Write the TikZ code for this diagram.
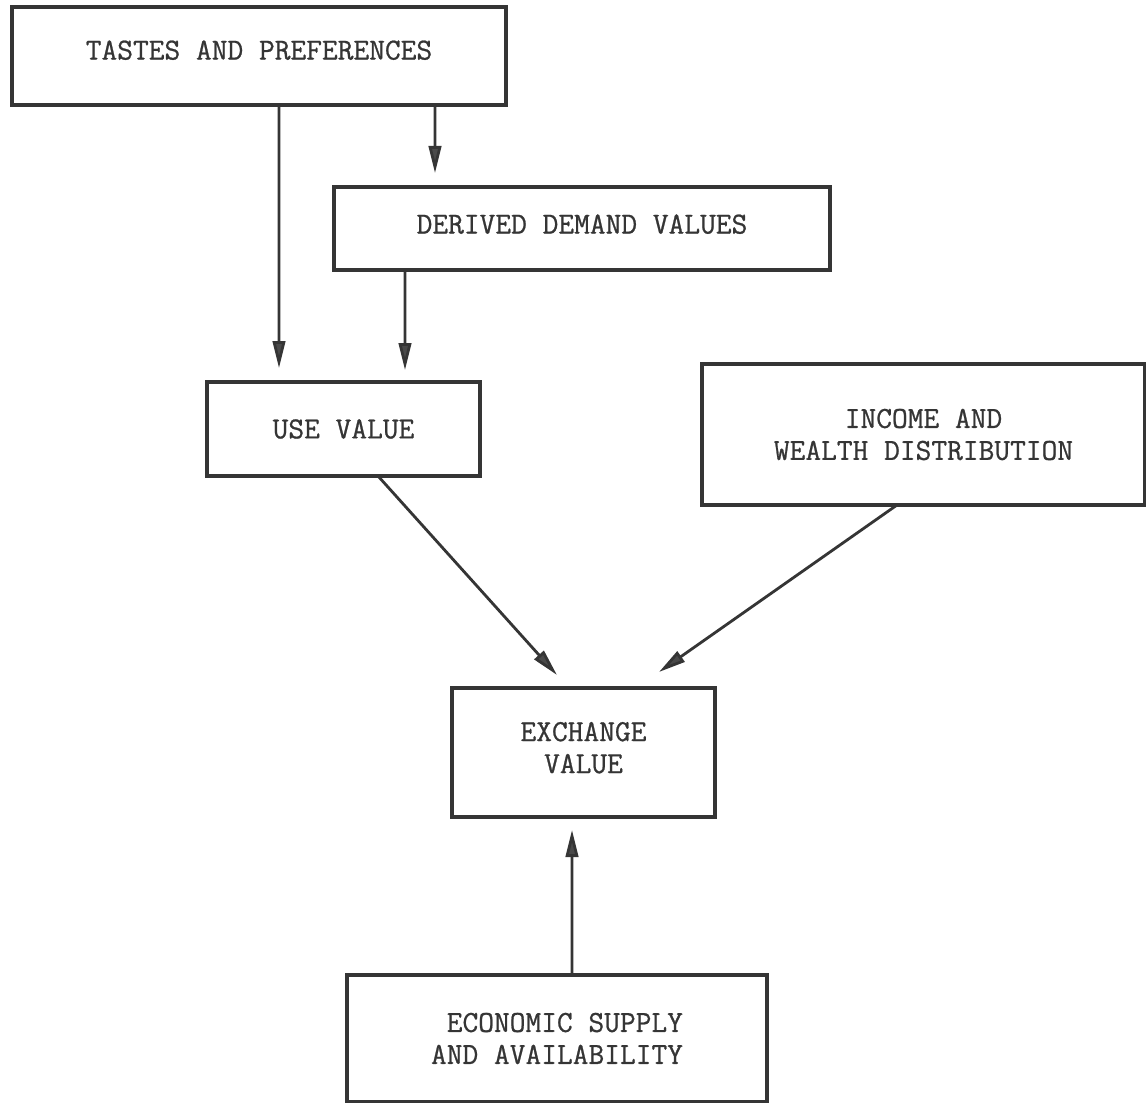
\documentclass[tikz,border=0pt]{standalone}
\usepackage{fontspec}
\usetikzlibrary{arrows.meta}
\newfontfamily\typewriter[FakeBold=0.8]{Latin Modern Mono}
\definecolor{ink}{HTML}{353535}
\definecolor{tipfill}{HTML}{4a4a4a}

\begin{document}
\begin{tikzpicture}[box/.style={draw=ink, line width=1.9pt, inner sep=0pt, outer sep=0pt, text=ink,
      font=\fontsize{17.4}{18.2}\selectfont\typewriter},
    flow/.style={draw=ink, line width=1.6pt, -{Triangle[length=0.54cm,width=0.25cm,fill=tipfill]}}]
      \useasboundingbox (0,0) rectangle (22.92,-22.06);
      \node[box, minimum width=9.88cm, minimum height=1.96cm, text depth=0.24cm] (tastes) at (5.18,-1.12) {TASTES AND PREFERENCES};
      \node[box, minimum width=9.92cm, minimum height=1.66cm, text depth=0.18cm] (derived) at (11.64,-4.57) {DERIVED DEMAND VALUES};
      \node[box, minimum width=5.46cm, minimum height=1.88cm] (use) at (6.87,-8.58) {USE VALUE};
      \node[box, minimum width=8.86cm, minimum height=2.82cm, align=center] (income) at (18.47,-8.69) {INCOME AND\\WEALTH DISTRIBUTION};
      \node[box, minimum width=5.26cm, minimum height=2.58cm, text depth=0.2cm, align=center] (exchange) at (11.67,-15.05) {EXCHANGE\\VALUE};
      \node[box, minimum width=8.4cm, minimum height=2.54cm, align=right] (supply) at (11.14,-20.77) {ECONOMIC SUPPLY\\AND AVAILABILITY};
      \draw[flow] ([xshift=0.4cm]tastes.south) -- ([xshift=-1.29cm,yshift=0.28cm]use.north);
      \draw[flow] ([xshift=3.52cm]tastes.south) -- ([xshift=-2.94cm,yshift=0.28cm]derived.north);
      \draw[flow] ([xshift=-3.54cm]derived.south) -- ([xshift=1.23cm,yshift=0.24cm]use.north);
      \draw[flow] ([xshift=0.69cm]use.south) -- ([xshift=-0.53cm,yshift=0.26cm]exchange.north);
      \draw[flow] ([xshift=-0.53cm]income.south) -- ([xshift=1.51cm,yshift=0.32cm]exchange.north);
      \draw[flow] ([xshift=0.30cm]supply.north) -- ([xshift=-0.23cm,yshift=-0.26cm]exchange.south);
    \end{tikzpicture}
\end{document}
